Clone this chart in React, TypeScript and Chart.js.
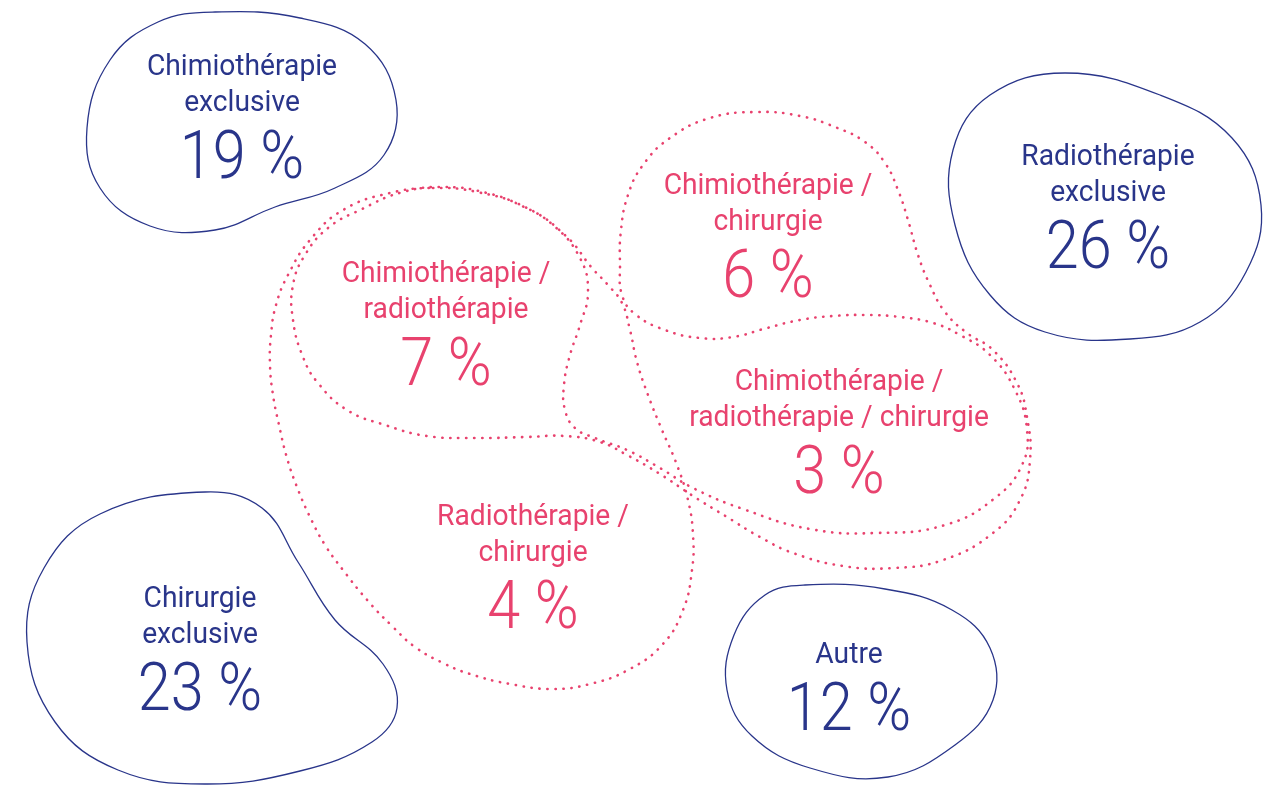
import React, { useEffect, useRef } from "react";
import { Chart, registerables } from "chart.js";

Chart.register(...registerables);

// ---------- DATA ----------
const categories: string[] = [
  "Chimiothérapie exclusive",
  "Radiothérapie exclusive",
  "Chirurgie exclusive",
  "Autre",
  "Chimiothérapie / radiothérapie",
  "Chimiothérapie / chirurgie",
  "Chimiothérapie / radiothérapie / chirurgie",
  "Radiothérapie / chirurgie",
];

const labelLines: string[][] = [
  ["Chimiothérapie", "exclusive"],
  ["Radiothérapie", "exclusive"],
  ["Chirurgie", "exclusive"],
  ["Autre"],
  ["Chimiothérapie /", "radiothérapie"],
  ["Chimiothérapie /", "chirurgie"],
  ["Chimiothérapie /", "radiothérapie / chirurgie"],
  ["Radiothérapie /", "chirurgie"],
];

const values: number[] = [19, 26, 23, 12, 7, 6, 3, 4];

// "single" = one treatment / other (solid navy blobs), "combo" = combinations (pink dotted)
const kinds: string[] = ["single", "single", "single", "single", "combo", "combo", "combo", "combo"];

// ---------- LAYOUT (positions, sizes, styles) ----------
const labelAnchors: { x: number; y: number }[] = [
  { x: 242, y: 178 },
  { x: 1108, y: 268 },
  { x: 200, y: 710 },
  { x: 849, y: 730 },
  { x: 446, y: 385 },
  { x: 768, y: 297 },
  { x: 839, y: 493 },
  { x: 533, y: 628 },
];

type Pt = [number, number];

const solidBlobs: Pt[][] = [
  // Chimiothérapie exclusive
  [
    [215, 12], [300, 18], [365, 44], [396, 100], [384, 155], [335, 188], [275, 207],
    [215, 230], [150, 226], [100, 188], [87, 128], [110, 60], [158, 22],
  ],
  // Radiothérapie exclusive
  [
    [1065, 73], [1160, 95], [1232, 138], [1261, 205], [1246, 272], [1200, 322],
    [1130, 339], [1045, 332], [990, 295], [955, 225], [953, 150], [990, 95],
  ],
  // Chirurgie exclusive
  [
    [205, 492], [262, 508], [298, 562], [335, 620], [383, 664], [397, 708], [372, 742],
    [300, 771], [205, 784], [118, 770], [55, 722], [27, 642], [44, 568], [100, 514],
  ],
  // Autre
  [
    [805, 585], [885, 589], [952, 610], [990, 648], [993, 700], [955, 745], [888, 777],
    [810, 768], [752, 736], [727, 690], [734, 635], [765, 595],
  ],
];

const dottedBlobs: Pt[][] = [
  // Chimiothérapie set (7 % loop + 3 % loops + 6 % loop)
  [
    [447, 187], [403, 192], [360, 210], [328, 228], [305, 255], [293, 285], [293, 320],
    [303, 357], [318, 383], [347, 410], [385, 425], [427, 436], [475, 438], [527, 437],
    [565, 436], [600, 442], [627, 455], [660, 474], [693, 496], [727, 517], [760, 537],
    [793, 553], [843, 566], [893, 568], [943, 560], [993, 533], [1020, 500], [1030, 460],
    [1027, 417], [1017, 383], [993, 350], [967, 333], [945, 312], [930, 285], [918, 255],
    [908, 220], [898, 190], [885, 163], [865, 142], [835, 127], [800, 116], [757, 112],
    [710, 118], [670, 138], [643, 165], [628, 195], [621, 230], [620, 265], [622, 295],
    [635, 314], [665, 330], [700, 338], [733, 337], [767, 328], [800, 320], [833, 316],
    [867, 315], [900, 317], [933, 323], [960, 335], [990, 355], [1015, 390], [1027, 430],
    [1022, 465], [995, 498], [945, 525], [877, 533], [810, 529], [743, 509], [693, 488],
    [660, 468], [627, 450], [595, 438], [575, 428], [565, 410], [564, 385], [570, 355],
    [580, 325], [588, 292], [580, 258], [553, 225], [520, 205], [487, 193],
  ],
  // Radiothérapie set (outer left shape)
  [
    [433, 188], [477, 192], [527, 208], [567, 237], [592, 268], [608, 285], [622, 303],
    [630, 330], [637, 362], [648, 395], [662, 430], [677, 465], [688, 500], [693, 535],
    [692, 570], [683, 610], [662, 645], [628, 670], [590, 684], [553, 689], [510, 684],
    [470, 674], [443, 663], [415, 647], [393, 627], [368, 601], [343, 570], [325, 545],
    [310, 517], [297, 487], [287, 458], [279, 425], [273, 395], [270, 365], [271, 335],
    [276, 305], [288, 275], [310, 240], [343, 210], [390, 193],
  ],
];

const NAVY = "#29358a";
const PINK = "#e8426e";
const FONT = "Roboto, 'Open Sans', sans-serif";

function closedLoop(pts: Pt[]) {
  const n = pts.length;
  return [pts[n - 1], ...pts, pts[0], pts[1]].map(([x, y]) => ({ x, y }));
}

function blobDataset(pts: Pt[], dotted: boolean) {
  const data = closedLoop(pts);
  const last = data.length - 1;
  return {
    data,
    showLine: true,
    tension: dotted ? 0.45 : 0.4,
    capBezierPoints: false,
    pointRadius: 0,
    pointHoverRadius: 0,
    pointHitRadius: 0,
    borderColor: dotted ? PINK : NAVY,
    borderWidth: dotted ? 2.6 : 1.3,
    borderDash: dotted ? [0.3, 7.7] : [],
    borderCapStyle: dotted ? "round" : "butt",
    borderJoinStyle: "round",
    fill: false,
    segment: {
      borderColor: (ctx: any) =>
        ctx.p0DataIndex === 0 || ctx.p1DataIndex === last ? "rgba(0,0,0,0)" : undefined,
    },
  };
}

function drawScaledText(
  ctx: CanvasRenderingContext2D,
  text: string,
  x: number,
  y: number,
  font: string,
  scaleX: number
) {
  ctx.save();
  ctx.translate(x, y);
  ctx.scale(scaleX, 1);
  ctx.font = font;
  ctx.textAlign = "center";
  ctx.textBaseline = "alphabetic";
  ctx.fillText(text, 0, 0);
  ctx.restore();
}

const labelPlugin = {
  id: "blobLabels",
  afterDatasetsDraw(chart: any) {
    const { ctx, scales } = chart;
    const xs = scales.x;
    const ys = scales.y;
    categories.forEach((_c, i) => {
      const a = labelAnchors[i];
      const cx = xs.getPixelForValue(a.x);
      const by = ys.getPixelForValue(a.y);
      ctx.fillStyle = kinds[i] === "single" ? NAVY : PINK;
      drawScaledText(ctx, `${values[i]} %`, cx, by, `300 66px ${FONT}`, 0.9);
      const lines = labelLines[i];
      lines.forEach((ln, j) => {
        const base = by - 67 - (lines.length - 1 - j) * 36;
        drawScaledText(ctx, ln, cx, base, `400 30px ${FONT}`, 0.94);
      });
    });
  },
};

export default function App() {
  const canvasRef = useRef<HTMLCanvasElement | null>(null);

  useEffect(() => {
    if (!canvasRef.current) return;
    const datasets: any[] = [
      ...dottedBlobs.map((b) => blobDataset(b, true)),
      ...solidBlobs.map((b) => blobDataset(b, false)),
    ];
    const chart = new Chart(canvasRef.current, {
      type: "scatter",
      data: { datasets },
      options: {
        animation: false,
        responsive: true,
        maintainAspectRatio: false,
        events: [],
        layout: { padding: 0 },
        plugins: {
          legend: { display: false },
          tooltip: { enabled: false },
          title: { display: false },
        },
        scales: {
          x: { type: "linear", min: 0, max: 1276, display: false },
          y: { type: "linear", min: 0, max: 785, reverse: true, display: false },
        },
      },
      plugins: [labelPlugin],
    } as any);
    return () => chart.destroy();
  }, []);

  return (
    <div
      style={{
        position: "fixed",
        left: 0,
        top: 0,
        width: 1276,
        height: 785,
        background: "#ffffff",
      }}
    >
      <canvas ref={canvasRef} />
    </div>
  );
}
